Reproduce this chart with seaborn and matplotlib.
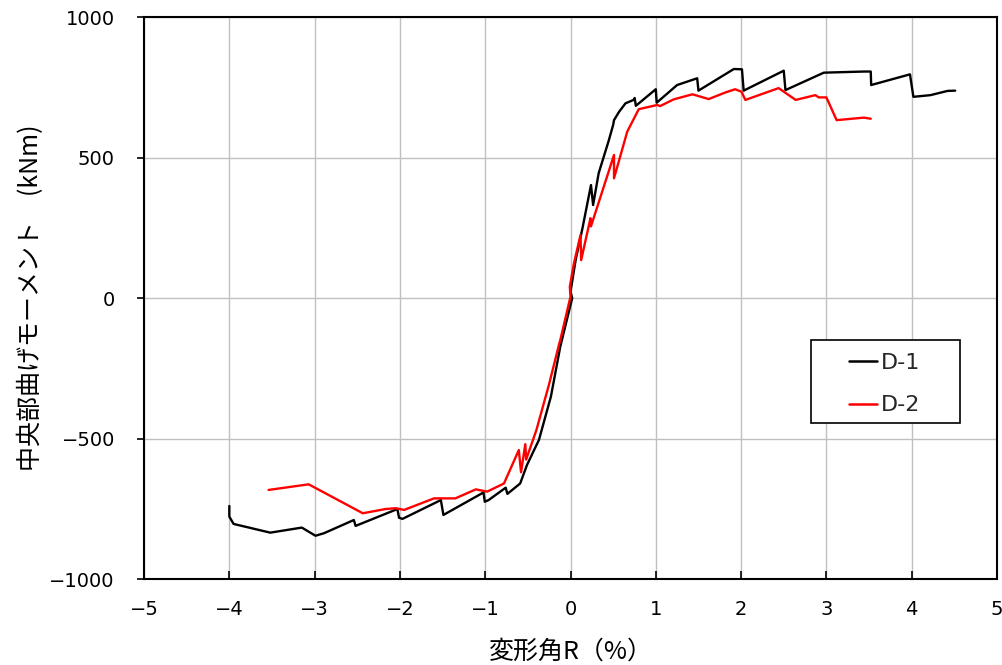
import matplotlib
matplotlib.use("Agg")
import matplotlib.pyplot as plt
from matplotlib.patches import Rectangle
import seaborn as sns
import pandas as pd

# ---- data ----
d1_x = [-4.0, -4.0, -3.95, -3.52, -3.15, -2.99, -2.89, -2.54, -2.52, -2.03, -2.01, -1.97,
        -1.52, -1.49, -1.02, -1.005, -0.96, -0.76, -0.74, -0.59, -0.51, -0.37, -0.23, -0.12,
        0.02, 0.0, 0.06, 0.14, 0.24, 0.265, 0.33, 0.45, 0.50, 0.51, 0.57, 0.645, 0.74, 0.752,
        0.766, 1.0, 1.01, 1.25, 1.485, 1.50, 1.915, 2.01, 2.03, 2.5, 2.52, 2.97, 3.44, 3.52,
        3.525, 3.98, 4.02, 4.22, 4.42, 4.51]
d1_y = [-740, -778, -804, -835, -817, -846, -837, -790, -811, -751, -782, -786,
        -719, -772, -692, -725, -719, -675, -697, -660, -594, -505, -351, -173,
        0, 22, 135, 248, 402, 331, 444, 562, 616, 633, 663, 693, 705, 712,
        684, 743, 695, 758, 782, 738, 815, 814, 738, 809, 740, 802, 806, 806,
        758, 796, 716, 722, 737, 738]

d2_x = [-3.54, -3.07, -2.435, -2.17, -2.05, -1.95, -1.60, -1.35, -1.11, -0.977, -0.78,
        -0.606, -0.58, -0.53, -0.52, -0.40, -0.254, -0.13, -0.12, 0.0, -0.008, 0.04,
        0.117, 0.125, 0.234, 0.24, 0.51, 0.51, 0.665, 0.80, 1.016, 1.05, 1.21, 1.43,
        1.62, 1.82, 1.93, 2.005, 2.05, 2.44, 2.64, 2.87, 2.91, 3.0, 3.12, 3.44, 3.52]
d2_y = [-683, -663, -766, -751, -748, -754, -713, -713, -681, -689, -660,
        -541, -620, -520, -575, -470, -310, -160, -150, 5, 40, 123,
        224, 135, 284, 255, 509, 426, 592, 672, 687, 683, 707, 725,
        708, 732, 743, 734, 705, 747, 705, 722, 714, 714, 633, 642, 638]

series_names = ["D-1", "D-2"]
series_colors = ["black", "red"]
x_ticks = [-5, -4, -3, -2, -1, 0, 1, 2, 3, 4, 5]
y_ticks = [-1000, -500, 0, 500, 1000]
x_label = "変形角R（%）"
y_label = "中央部曲げモーメント　(kNm)"

df = pd.concat([
    pd.DataFrame({"R": d1_x, "M": d1_y, "試験体": series_names[0]}),
    pd.DataFrame({"R": d2_x, "M": d2_y, "試験体": series_names[1]}),
], ignore_index=True)

sns.set_theme(style="white")
plt.rcParams["font.family"] = ["DejaVu Sans", "Noto Sans CJK JP"]
plt.rcParams["axes.unicode_minus"] = True
cjk = ["Noto Sans CJK JP", "DejaVu Sans"]

fig = plt.figure(figsize=(10.03, 6.65), dpi=100)
ax = fig.add_axes([0.1436, 0.1293, 0.8504, 0.8451])

sns.lineplot(data=df, x="R", y="M", hue="試験体", palette=dict(zip(series_names, series_colors)),
             sort=False, estimator=None, units="試験体", linewidth=1.7, ax=ax)

ax.set_xlim(-5, 5)
ax.set_ylim(-1000, 1000)
ax.set_xticks(x_ticks)
ax.set_yticks(y_ticks)
ax.grid(True, color="#c0c0c0", linewidth=1.0)
ax.set_axisbelow(True)
for s in ax.spines.values():
    s.set_color("black")
    s.set_linewidth(1.5)
ax.tick_params(axis="x", direction="in", length=6, width=1.2, color="black", labelsize=14, pad=15, bottom=True)
ax.tick_params(axis="y", direction="out", length=5, width=1.2, color="black", labelsize=14, pad=16, left=True)
for lab in ax.get_xticklabels() + ax.get_yticklabels():
    lab.set_color("black")
ax.set_xlabel(x_label, fontsize=18, labelpad=14, family=cjk, color="black")
ax.set_ylabel(y_label, fontsize=18, labelpad=4, family=cjk, color="black")

# legend box (Excel style, wider than contents)
ax.add_patch(Rectangle((0.782, 0.278), 0.957 - 0.782, 0.425 - 0.278, transform=ax.transAxes,
                       facecolor="white", edgecolor="black", linewidth=1.2, zorder=5))
leg = ax.legend(loc="upper left", bbox_to_anchor=(0.826, 0.402), fontsize=16, frameon=False,
                handlelength=1.3, handletextpad=0.15, borderpad=0, labelspacing=1.0,
                borderaxespad=0)
leg.set_zorder(6)
leg.set_title(None)
for line in leg.get_lines():
    line.set_linewidth(1.8)

fig.savefig("out.png", dpi=100)
